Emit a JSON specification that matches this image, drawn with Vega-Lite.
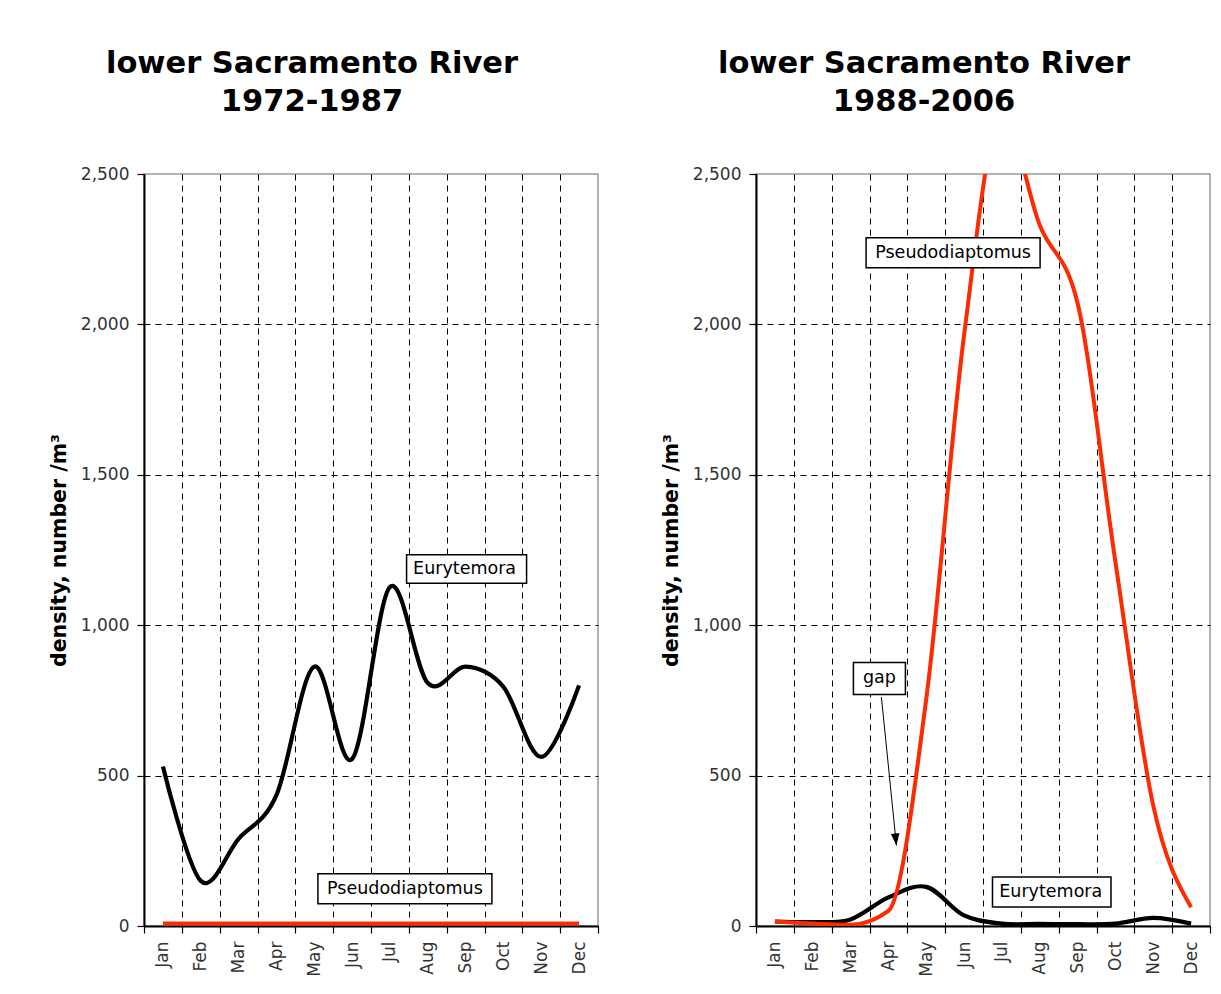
{
  "$schema": "https://vega.github.io/schema/vega-lite/v6.json",
  "background": "white",
  "padding": {"left": 48, "top": 47, "right": 5, "bottom": 5},
  "spacing": 60,
  "datasets": {
    "density": [
      {"period": "1972-1987", "species": "Eurytemora", "month": "Jan", "density": 530},
      {"period": "1972-1987", "species": "Eurytemora", "month": "Feb", "density": 150},
      {"period": "1972-1987", "species": "Eurytemora", "month": "Mar", "density": 290},
      {"period": "1972-1987", "species": "Eurytemora", "month": "Apr", "density": 435},
      {"period": "1972-1987", "species": "Eurytemora", "month": "May", "density": 862},
      {"period": "1972-1987", "species": "Eurytemora", "month": "Jun", "density": 555},
      {"period": "1972-1987", "species": "Eurytemora", "month": "Jul", "density": 1127},
      {"period": "1972-1987", "species": "Eurytemora", "month": "Aug", "density": 808},
      {"period": "1972-1987", "species": "Eurytemora", "month": "Sep", "density": 862},
      {"period": "1972-1987", "species": "Eurytemora", "month": "Oct", "density": 795},
      {"period": "1972-1987", "species": "Eurytemora", "month": "Nov", "density": 562},
      {"period": "1972-1987", "species": "Eurytemora", "month": "Dec", "density": 800},
      {"period": "1972-1987", "species": "Pseudodiaptomus", "month": "Jan", "density": 8},
      {"period": "1972-1987", "species": "Pseudodiaptomus", "month": "Feb", "density": 8},
      {"period": "1972-1987", "species": "Pseudodiaptomus", "month": "Mar", "density": 8},
      {"period": "1972-1987", "species": "Pseudodiaptomus", "month": "Apr", "density": 8},
      {"period": "1972-1987", "species": "Pseudodiaptomus", "month": "May", "density": 8},
      {"period": "1972-1987", "species": "Pseudodiaptomus", "month": "Jun", "density": 8},
      {"period": "1972-1987", "species": "Pseudodiaptomus", "month": "Jul", "density": 8},
      {"period": "1972-1987", "species": "Pseudodiaptomus", "month": "Aug", "density": 8},
      {"period": "1972-1987", "species": "Pseudodiaptomus", "month": "Sep", "density": 8},
      {"period": "1972-1987", "species": "Pseudodiaptomus", "month": "Oct", "density": 8},
      {"period": "1972-1987", "species": "Pseudodiaptomus", "month": "Nov", "density": 8},
      {"period": "1972-1987", "species": "Pseudodiaptomus", "month": "Dec", "density": 8},
      {"period": "1988-2006", "species": "Eurytemora", "month": "Jan", "density": 15},
      {"period": "1988-2006", "species": "Eurytemora", "month": "Feb", "density": 13},
      {"period": "1988-2006", "species": "Eurytemora", "month": "Mar", "density": 22},
      {"period": "1988-2006", "species": "Eurytemora", "month": "Apr", "density": 95},
      {"period": "1988-2006", "species": "Eurytemora", "month": "May", "density": 130},
      {"period": "1988-2006", "species": "Eurytemora", "month": "Jun", "density": 35},
      {"period": "1988-2006", "species": "Eurytemora", "month": "Jul", "density": 8},
      {"period": "1988-2006", "species": "Eurytemora", "month": "Aug", "density": 7},
      {"period": "1988-2006", "species": "Eurytemora", "month": "Sep", "density": 6},
      {"period": "1988-2006", "species": "Eurytemora", "month": "Oct", "density": 8},
      {"period": "1988-2006", "species": "Eurytemora", "month": "Nov", "density": 27},
      {"period": "1988-2006", "species": "Eurytemora", "month": "Dec", "density": 8},
      {"period": "1988-2006", "species": "Pseudodiaptomus", "month": "Jan", "density": 15},
      {"period": "1988-2006", "species": "Pseudodiaptomus", "month": "Feb", "density": 8},
      {"period": "1988-2006", "species": "Pseudodiaptomus", "month": "Mar", "density": 4},
      {"period": "1988-2006", "species": "Pseudodiaptomus", "month": "Apr", "density": 50},
      {"period": "1988-2006", "species": "Pseudodiaptomus", "month": "May", "density": 755},
      {"period": "1988-2006", "species": "Pseudodiaptomus", "month": "Jun", "density": 1965},
      {"period": "1988-2006", "species": "Pseudodiaptomus", "month": "Jul", "density": 2700},
      {"period": "1988-2006", "species": "Pseudodiaptomus", "month": "Aug", "density": 2330},
      {"period": "1988-2006", "species": "Pseudodiaptomus", "month": "Sep", "density": 2070},
      {"period": "1988-2006", "species": "Pseudodiaptomus", "month": "Oct", "density": 1210},
      {"period": "1988-2006", "species": "Pseudodiaptomus", "month": "Nov", "density": 400},
      {"period": "1988-2006", "species": "Pseudodiaptomus", "month": "Dec", "density": 62}
    ],
    "notes": [
      {"period": "1972-1987", "label": "Eurytemora", "month": "Sep", "density": 1187},
      {"period": "1972-1987", "label": "Pseudodiaptomus", "month": "Jul", "density": 124},
      {"period": "1988-2006", "label": "Pseudodiaptomus", "month": "Jun", "density": 2238},
      {"period": "1988-2006", "label": "gap", "month": "Apr", "density": 823},
      {"period": "1988-2006", "label": "Eurytemora", "month": "Aug", "density": 113}
    ],
    "arrows": [
      {"period": "1988-2006", "month": "Apr", "from": 761, "to": 268}
    ]
  },
  "hconcat": [
    {
      "width": 454,
      "height": 752,
      "title": {"text": ["lower Sacramento River", "1972-1987"]},
      "encoding": {
        "x": {"field": "month", "type": "ordinal", "title": null,
          "scale": {"domain": ["Jan","Feb","Mar","Apr","May","Jun","Jul","Aug","Sep","Oct","Nov","Dec"], "paddingInner": 0, "paddingOuter": 0},
          "axis": {"labelAngle": -90, "tickBand": "extent", "grid": true, "labelOverlap": false,
            "gridOpacity": {"condition": {"test": "datum.value === 'Dec'", "value": 0}, "value": 1}}},
        "y": {"field": "density", "type": "quantitative", "title": "density, number /m³",
          "scale": {"domain": [0, 2500], "nice": false, "zero": true},
          "axis": {"values": [0, 500, 1000, 1500, 2000, 2500], "format": ",d", "grid": true,
            "gridOpacity": {"condition": {"test": "datum.value === 2500", "value": 0}, "value": 1}}}
      },
      "layer": [
        {
          "data": {"name": "density"},
          "transform": [{"filter": "datum.period === '1972-1987' && datum.species === 'Pseudodiaptomus'"}],
          "mark": {"type": "line", "color": "#ff2a00", "strokeWidth": 4, "interpolate": "linear", "clip": true}
        },
        {
          "data": {"name": "density"},
          "transform": [{"filter": "datum.period === '1972-1987' && datum.species === 'Eurytemora'"}],
          "mark": {"type": "line", "color": "black", "strokeWidth": 4.2, "interpolate": "cardinal", "clip": true}
        },
        {
          "data": {"name": "notes"},
          "transform": [{"filter": "datum.period === '1972-1987' && datum.label === 'Eurytemora'"}],
          "mark": {"type": "point", "shape": "M-1,-0.2367L1,-0.2367L1,0.2367L-1,0.2367Z", "size": 14400, "fill": "white", "stroke": "black", "strokeWidth": 1.5, "opacity": 1, "xOffset": 1}
        },
        {
          "data": {"name": "notes"},
          "transform": [{"filter": "datum.period === '1972-1987' && datum.label === 'Eurytemora'"}],
          "mark": {"type": "text", "font": "DejaVu Sans", "fontSize": 17.5, "color": "black", "align": "center", "baseline": "middle", "dx": -1},
          "encoding": {"text": {"field": "label"}}
        },
        {
          "data": {"name": "notes"},
          "transform": [{"filter": "datum.period === '1972-1987' && datum.label === 'Pseudodiaptomus'"}],
          "mark": {"type": "point", "shape": "M-1,-0.1724L1,-0.1724L1,0.1724L-1,0.1724Z", "size": 30276, "fill": "white", "stroke": "black", "strokeWidth": 1.5, "opacity": 1, "xOffset": 15}
        },
        {
          "data": {"name": "notes"},
          "transform": [{"filter": "datum.period === '1972-1987' && datum.label === 'Pseudodiaptomus'"}],
          "mark": {"type": "text", "font": "DejaVu Sans", "fontSize": 17.5, "color": "black", "align": "center", "baseline": "middle", "dx": 15},
          "encoding": {"text": {"field": "label"}}
        }
      ]
    },
    {
      "width": 454,
      "height": 752,
      "title": {"text": ["lower Sacramento River", "1988-2006"]},
      "encoding": {
        "x": {"field": "month", "type": "ordinal", "title": null,
          "scale": {"domain": ["Jan","Feb","Mar","Apr","May","Jun","Jul","Aug","Sep","Oct","Nov","Dec"], "paddingInner": 0, "paddingOuter": 0},
          "axis": {"labelAngle": -90, "tickBand": "extent", "grid": true, "labelOverlap": false,
            "gridOpacity": {"condition": {"test": "datum.value === 'Dec'", "value": 0}, "value": 1}}},
        "y": {"field": "density", "type": "quantitative", "title": "density, number /m³",
          "scale": {"domain": [0, 2500], "nice": false, "zero": true},
          "axis": {"values": [0, 500, 1000, 1500, 2000, 2500], "format": ",d", "grid": true,
            "gridOpacity": {"condition": {"test": "datum.value === 2500", "value": 0}, "value": 1}}}
      },
      "layer": [
        {
          "data": {"name": "density"},
          "transform": [{"filter": "datum.period === '1988-2006' && datum.species === 'Eurytemora'"}],
          "mark": {"type": "line", "color": "black", "strokeWidth": 4.2, "interpolate": "cardinal", "clip": true}
        },
        {
          "data": {"name": "density"},
          "transform": [{"filter": "datum.period === '1988-2006' && datum.species === 'Pseudodiaptomus'"}],
          "mark": {"type": "line", "color": "#ff2a00", "strokeWidth": 4, "interpolate": "monotone", "clip": true}
        },
        {
          "data": {"name": "notes"},
          "transform": [{"filter": "datum.period === '1988-2006' && datum.label === 'Pseudodiaptomus'"}],
          "mark": {"type": "point", "shape": "M-1,-0.1724L1,-0.1724L1,0.1724L-1,0.1724Z", "size": 30276, "fill": "white", "stroke": "black", "strokeWidth": 1.5, "opacity": 1, "xOffset": -11}
        },
        {
          "data": {"name": "notes"},
          "transform": [{"filter": "datum.period === '1988-2006' && datum.label === 'Pseudodiaptomus'"}],
          "mark": {"type": "text", "font": "DejaVu Sans", "fontSize": 17.5, "color": "black", "align": "center", "baseline": "middle", "dx": -11},
          "encoding": {"text": {"field": "label"}}
        },
        {
          "data": {"name": "notes"},
          "transform": [{"filter": "datum.period === '1988-2006' && datum.label === 'Eurytemora'"}],
          "mark": {"type": "point", "shape": "M-1,-0.2532L1,-0.2532L1,0.2532L-1,0.2532Z", "size": 14045, "fill": "white", "stroke": "black", "strokeWidth": 1.5, "opacity": 1, "xOffset": 12}
        },
        {
          "data": {"name": "notes"},
          "transform": [{"filter": "datum.period === '1988-2006' && datum.label === 'Eurytemora'"}],
          "mark": {"type": "text", "font": "DejaVu Sans", "fontSize": 17.5, "color": "black", "align": "center", "baseline": "middle", "dx": 11},
          "encoding": {"text": {"field": "label"}}
        },
        {
          "data": {"name": "arrows"},
          "mark": {"type": "rule", "color": "black", "strokeWidth": 1, "xOffset": -7, "x2Offset": 8},
          "encoding": {
            "x2": {"field": "month"},
            "y": {"field": "from", "type": "quantitative", "title": "density, number /m³"},
            "y2": {"field": "to"}
          }
        },
        {
          "data": {"name": "arrows"},
          "mark": {"type": "point", "shape": "M0,0L-0.36,-1L0.36,-1Z", "size": 576, "fill": "black", "filled": true, "strokeWidth": 0, "opacity": 1, "angle": 354, "xOffset": 8},
          "encoding": {
            "y": {"field": "to", "type": "quantitative", "title": "density, number /m³"}
          }
        },
        {
          "data": {"name": "notes"},
          "transform": [{"filter": "datum.period === '1988-2006' && datum.label === 'gap'"}],
          "mark": {"type": "point", "shape": "M-1,-0.6154L1,-0.6154L1,0.6154L-1,0.6154Z", "size": 2704, "fill": "white", "stroke": "black", "strokeWidth": 1.5, "opacity": 1, "xOffset": -9}
        },
        {
          "data": {"name": "notes"},
          "transform": [{"filter": "datum.period === '1988-2006' && datum.label === 'gap'"}],
          "mark": {"type": "text", "font": "DejaVu Sans", "fontSize": 17.5, "color": "black", "align": "center", "baseline": "middle", "dx": -9},
          "encoding": {"text": {"field": "label"}}
        }
      ]
    }
  ],
  "config": {
    "view": {"stroke": "#999999", "strokeWidth": 1.5},
    "axis": {
      "gridColor": "black", "gridDash": [6, 5], "gridWidth": 1,
      "domainColor": "black", "domainWidth": 2,
      "tickColor": "black", "tickSize": 7, "tickWidth": 1.2,
      "labelFont": "DejaVu Sans", "labelFontSize": 17, "labelColor": "#333333", "labelPadding": 8,
      "titleFont": "DejaVu Sans", "titleFontSize": 20.5, "titleFontWeight": "bold", "titleColor": "black", "titlePadding": 11
    },
    "title": {
      "font": "DejaVu Sans", "fontSize": 30.5, "fontWeight": "bold", "color": "black",
      "lineHeight": 38, "anchor": "middle", "frame": "bounds", "dx": -12, "offset": 48
    }
  }
}
